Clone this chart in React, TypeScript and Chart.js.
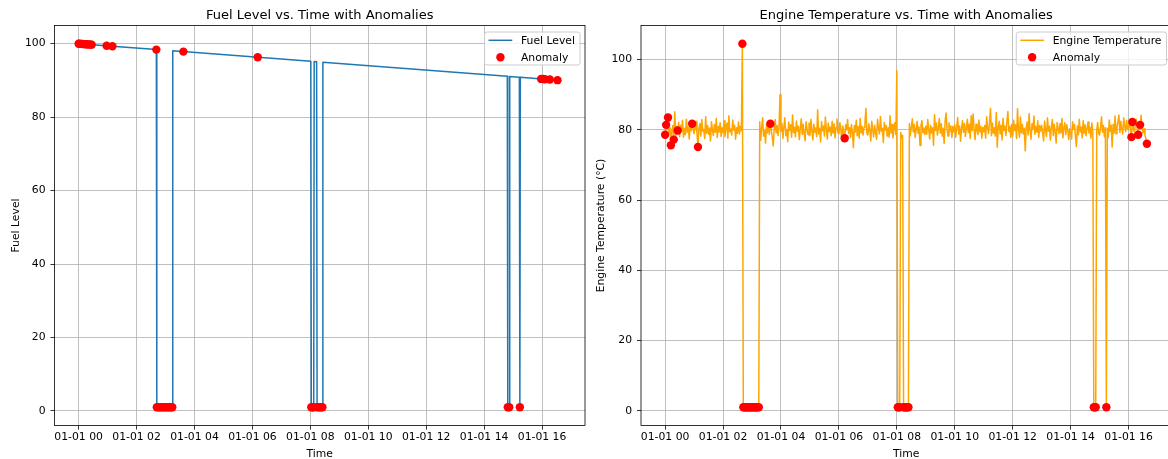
import React, { useEffect, useRef } from "react";
import { Chart, registerables } from "chart.js";

Chart.register(...registerables);

// ---------------- data ----------------
const xTickMinutes = [0, 120, 240, 360, 480, 600, 720, 840, 960];
const xTickLabels = [
  "01-01 00", "01-01 02", "01-01 04", "01-01 06", "01-01 08",
  "01-01 10", "01-01 12", "01-01 14", "01-01 16",
];
const yTickValues = [0, 20, 40, 60, 80, 100];

// Fuel level: breakpoints of the (piecewise straight) line, minutes from 01-01 00:00
const fuelTimes = [0, 161, 162, 194, 195, 481, 482, 487, 488, 493, 494, 505, 506, 888, 889, 892, 893, 913, 914, 915, 999];
const fuelLevels = [100, 98.39, 1, 1, 98.05, 95.19, 1, 1, 95.12, 95.07, 1, 1, 94.94, 91.11, 1, 1, 91.06, 90.86, 1, 90.84, 90.0];

const fuelAnomalyTimes = [
  0, 2, 5, 8, 11, 14, 17, 20, 24, 27, 58, 70, 161,
  162, 165, 168, 171, 174, 177, 180, 183, 186, 189, 192, 194,
  217, 371,
  482, 484, 487, 494, 497, 500, 503, 505,
  889, 892, 914,
  958, 962, 966, 976, 992,
];
const fuelAnomalyLevels = [
  100, 99.98, 99.95, 99.92, 99.89, 99.86, 99.83, 99.8, 99.76, 99.73, 99.42, 99.3, 98.39,
  1, 1, 1, 1, 1, 1, 1, 1, 1, 1, 1, 1,
  97.83, 96.29,
  1, 1, 1, 1, 1, 1, 1, 1,
  1, 1, 1,
  90.41, 90.37, 90.33, 90.23, 90.07,
];

// Engine temperature, one reading every 2 minutes from 01-01 00:00 (30 readings per row = 1 hour)
const tempStepMinutes = 2;
const engineTemps = [
  78.6, 81.4, 80.1, 83.5, 79.2, 80.6, 75.6, 79.9, 81.2, 77.2, 85.1, 78.4, 80.9, 79.8, 82.1, 78.0, 81.3, 79.5, 82.7, 77.9, 80.4, 78.6, 83.0, 79.3, 80.8, 77.4, 81.6, 79.7, 81.7, 80.2,
  78.9, 80.7, 82.4, 79.1, 75.1, 80.3, 81.8, 78.2, 82.9, 79.6, 80.1, 77.5, 83.8, 79.0, 81.2, 78.7, 80.5, 76.8, 82.3, 80.0, 78.4, 81.5, 79.3, 83.2, 77.8, 80.9, 79.4, 82.0, 78.1, 80.6,
  79.2, 82.6, 78.0, 80.7, 81.9, 77.6, 84.0, 79.4, 80.2, 78.5, 82.8, 79.9, 81.3, 77.3, 80.6, 79.0, 82.2, 78.8, 81.0, 79.7, 104.5, 1, 1, 1, 1, 1, 1, 1, 1, 1,
  1, 1, 1, 1, 1, 1, 1, 1, 82.3, 77.0, 80.6, 83.4, 78.2, 79.8, 76.2, 81.5, 79.1, 82.6, 78.7, 81.7, 80.0, 77.8, 75.4, 80.3, 82.9, 79.1, 81.2, 78.4, 80.8, 90.0,
  79.5, 81.8, 77.5, 80.9, 83.4, 78.3, 80.1, 76.6, 82.2, 79.8, 81.4, 77.9, 84.2, 79.2, 80.7, 78.0, 82.5, 79.6, 81.0, 77.2, 80.4, 83.1, 78.7, 81.6, 79.0, 76.9, 82.3, 80.2, 78.6, 81.9,
  78.4, 83.0, 79.9, 77.1, 81.6, 79.3, 80.5, 78.1, 85.7, 78.8, 80.4, 76.5, 82.3, 79.7, 81.1, 78.2, 83.6, 80.0, 77.4, 81.9, 79.5, 80.8, 78.3, 82.4, 79.0, 81.7, 77.7, 80.6, 83.1, 79.2,
  78.9, 82.0, 80.3, 76.9, 81.1, 79.4, 77.6, 81.4, 80.0, 82.9, 79.0, 80.6, 77.8, 81.5, 79.3, 74.9, 81.2, 79.4, 82.7, 78.3, 80.9, 77.6, 83.3, 79.1, 81.0, 78.5, 80.7, 82.2, 86.1, 79.0,
  78.5, 81.7, 79.8, 76.8, 82.4, 80.1, 78.0, 81.3, 79.2, 77.3, 83.0, 80.5, 78.8, 83.8, 79.6, 80.4, 76.4, 82.1, 79.9, 81.2, 78.2, 80.6, 77.9, 84.0, 79.0, 81.5, 77.7, 80.3, 82.0, 78.6,
  96.8, 1, 1, 1, 79.2, 77.5, 78.4, 1, 1, 1, 1, 1, 1, 81.8, 78.3, 80.7, 83.1, 79.4, 81.5, 77.8, 80.2, 82.4, 79.0, 80.8, 75.5, 81.3, 82.6, 79.1, 80.5, 78.7,
  81.0, 78.7, 82.9, 80.2, 77.4, 81.3, 79.1, 80.6, 75.6, 84.3, 79.8, 81.9, 78.5, 80.6, 83.2, 79.0, 81.7, 78.2, 80.4, 76.1, 82.5, 84.8, 80.1, 78.2, 82.0, 79.6, 81.1, 77.8, 80.9, 79.4,
  81.4, 77.9, 80.8, 83.5, 78.8, 81.1, 76.7, 80.4, 82.6, 79.3, 81.8, 78.1, 80.5, 83.0, 79.2, 81.6, 77.5, 84.0, 79.7, 84.5, 80.2, 77.2, 81.6, 80.0, 78.6, 82.8, 79.4, 81.0, 77.6, 80.7,
  79.4, 81.2, 77.6, 83.7, 80.5, 78.9, 82.2, 86.1, 78.3, 81.9, 79.0, 80.6, 78.2, 84.9, 75.0, 80.7, 82.4, 78.8, 81.3, 77.1, 83.3, 79.8, 81.0, 78.4, 82.5, 85.2, 79.5, 80.9, 77.8, 81.6,
  78.2, 82.7, 79.8, 81.4, 77.5, 86.0, 80.3, 77.9, 83.6, 79.1, 81.5, 78.8, 80.4, 74.0, 80.6, 82.2, 78.5, 84.6, 79.9, 77.3, 81.7, 80.1, 83.9, 78.7, 80.9, 79.3, 82.6, 77.9, 81.2, 79.6,
  81.3, 79.2, 76.8, 82.5, 80.0, 78.1, 83.4, 79.6, 81.0, 77.0, 80.7, 82.9, 78.4, 81.6, 79.3, 76.2, 82.1, 80.4, 78.9, 81.8, 79.1, 83.2, 77.7, 80.5, 82.0, 78.6, 81.4, 79.8, 77.2, 80.3,
  79.5, 77.4, 82.3, 80.2, 81.5, 78.0, 75.2, 81.1, 78.6, 83.0, 79.4, 80.8, 77.7, 82.6, 79.0, 81.4, 78.3, 80.5, 82.2, 79.1, 80.7, 77.6, 81.9, 79.3, 1, 1, 1, 79.8, 82.1, 78.9,
  78.5, 80.9, 83.7, 79.3, 81.2, 78.0, 80.6, 1, 80.4, 77.8, 82.8, 79.6, 81.3, 75.1, 81.5, 79.0, 83.9, 78.9, 80.6, 82.3, 84.2, 79.2, 82.4, 80.1, 78.8, 83.4, 81.0, 79.5, 82.7, 80.2,
  80.7, 82.9, 79.6, 77.9, 82.2, 80.5, 79.4, 81.2, 83.0, 80.1, 78.6, 81.9, 81.4, 84.1, 80.6, 79.1, 80.3, 78.5, 77.4, 76.0,
];
const tempAnomalyIdx = [
  0, 1, 3, 6, 9, 13, 28, 34,
  80, 81, 82, 83, 84, 85, 86, 87, 88, 89, 90, 91, 92, 93, 94, 95, 96, 97,
  109, 186,
  241, 242, 243, 247, 248, 249, 250, 251, 252,
  444, 445, 446, 457,
  483, 484, 490, 492, 499,
];

// ---------------- styling ----------------
const FONT = "'DejaVu Sans', 'Liberation Sans', sans-serif";
const FS = 10.8;
const DOT_R = 4.2;

type Pt = { x: number; y: number };
type Panel = {
  title: string;
  yLabel: string;
  lineLabel: string;
  lineColor: string;
  line: Pt[];
  anomalies: Pt[];
  yMin: number;
  yMax: number;
  yAxisWidth: number;
  rightPad: number;
  yLabelX: number;
};

function makeDecor(p: Panel) {
  return {
    id: "mplDecor",
    afterDatasetsDraw(chart: any) {
      const { ctx, chartArea: a } = chart;
      ctx.save();
      ctx.strokeStyle = "#000";
      ctx.lineWidth = 0.8;
      ctx.strokeRect(a.left, a.top, a.right - a.left, a.bottom - a.top);
      ctx.restore();
    },
    afterDraw(chart: any) {
      const { ctx, chartArea: a } = chart;
      const cx = (a.left + a.right) / 2;
      ctx.save();
      ctx.fillStyle = "#000";
      ctx.textAlign = "center";
      ctx.textBaseline = "alphabetic";
      ctx.font = `13px ${FONT}`;
      ctx.fillText(p.title, cx, a.top - 6.5);
      ctx.font = `${FS}px ${FONT}`;
      ctx.fillText("Time", cx, 456.5);
      ctx.save();
      ctx.translate(p.yLabelX, (a.top + a.bottom) / 2);
      ctx.rotate(-Math.PI / 2);
      ctx.fillText(p.yLabel, 0, 0);
      ctx.restore();

      // legend (upper right)
      const tw = Math.max(ctx.measureText(p.lineLabel).width, ctx.measureText("Anomaly").width);
      const padL = 4, handle = 23.7, gap = 8.7, padR = 5;
      const w = padL + handle + gap + tw + padR;
      const h = 33;
      const x0 = a.right - 5 - w;
      const y0 = a.top + 6.5;
      const r = 2.5;
      ctx.beginPath();
      ctx.moveTo(x0 + r, y0);
      ctx.lineTo(x0 + w - r, y0);
      ctx.arcTo(x0 + w, y0, x0 + w, y0 + r, r);
      ctx.lineTo(x0 + w, y0 + h - r);
      ctx.arcTo(x0 + w, y0 + h, x0 + w - r, y0 + h, r);
      ctx.lineTo(x0 + r, y0 + h);
      ctx.arcTo(x0, y0 + h, x0, y0 + h - r, r);
      ctx.lineTo(x0, y0 + r);
      ctx.arcTo(x0, y0, x0 + r, y0, r);
      ctx.closePath();
      ctx.fillStyle = "rgba(255,255,255,0.8)";
      ctx.fill();
      ctx.strokeStyle = "#cccccc";
      ctx.lineWidth = 1;
      ctx.stroke();

      const r1 = y0 + 8.3;
      const r2 = y0 + 25.3;
      ctx.strokeStyle = p.lineColor;
      ctx.lineWidth = 1.5;
      ctx.beginPath();
      ctx.moveTo(x0 + padL, r1);
      ctx.lineTo(x0 + padL + handle, r1);
      ctx.stroke();
      ctx.fillStyle = "#ff0000";
      ctx.beginPath();
      ctx.arc(x0 + padL + handle / 2, r2, DOT_R, 0, Math.PI * 2);
      ctx.fill();
      ctx.fillStyle = "#000";
      ctx.textAlign = "left";
      ctx.textBaseline = "middle";
      ctx.fillText(p.lineLabel, x0 + padL + handle + gap, r1 + 0.7);
      ctx.fillText("Anomaly", x0 + padL + handle + gap, r2 + 0.7);
      ctx.restore();
    },
  };
}

function buildChart(canvas: HTMLCanvasElement, p: Panel) {
  const tickFont = { family: FONT, size: FS };
  const grid = {
    color: "#b0b0b0",
    lineWidth: 0.8,
    drawTicks: true,
    tickLength: 4,
    tickColor: "#000",
    tickWidth: 0.8,
  };
  return new Chart(canvas, {
    type: "scatter",
    data: {
      datasets: [
        {
          label: "Anomaly",
          data: p.anomalies,
          showLine: false,
          pointRadius: DOT_R,
          pointHoverRadius: DOT_R,
          pointBackgroundColor: "#ff0000",
          pointBorderWidth: 0,
          order: 0,
        },
        {
          label: p.lineLabel,
          data: p.line,
          showLine: true,
          borderColor: p.lineColor,
          borderWidth: 1.5,
          borderJoinStyle: "round",
          pointRadius: 0,
          pointHoverRadius: 0,
          fill: false,
          order: 1,
        },
      ],
    },
    options: {
      responsive: false,
      animation: false,
      events: [],
      layout: { padding: { left: 0, right: p.rightPad, top: 25.5, bottom: 0 } },
      plugins: {
        legend: { display: false },
        title: { display: false },
        tooltip: { enabled: false },
      },
      scales: {
        x: {
          type: "linear",
          min: -49.95,
          max: 1048.95,
          afterBuildTicks: (s: any) => {
            s.ticks = xTickMinutes.map((v) => ({ value: v }));
          },
          afterFit: (s: any) => {
            s.height = 33.5;
          },
          ticks: {
            autoSkip: false,
            maxRotation: 0,
            minRotation: 0,
            padding: 1.5,
            color: "#000",
            font: tickFont,
            callback: (v: any) => xTickLabels[xTickMinutes.indexOf(Number(v))],
          },
          grid,
          border: { display: false },
        },
        y: {
          type: "linear",
          min: p.yMin,
          max: p.yMax,
          afterBuildTicks: (s: any) => {
            s.ticks = yTickValues.map((v) => ({ value: v }));
          },
          afterFit: (s: any) => {
            s.width = p.yAxisWidth;
          },
          ticks: {
            padding: 5,
            color: "#000",
            font: tickFont,
            callback: (v: any) => String(v),
          },
          grid,
          border: { display: false },
        },
      },
    } as any,
    plugins: [makeDecor(p)],
  } as any);
}

const fuelPanel: Panel = {
  title: "Fuel Level vs. Time with Anomalies",
  yLabel: "Fuel Level",
  lineLabel: "Fuel Level",
  lineColor: "#1f77b4",
  line: fuelTimes.map((t, i) => ({ x: t, y: fuelLevels[i] })),
  anomalies: fuelAnomalyTimes.map((t, i) => ({ x: t, y: fuelAnomalyLevels[i] })),
  yMin: -3.95,
  yMax: 104.95,
  yAxisWidth: 54.5,
  rightPad: 5,
  yLabelX: 19,
};

const tempPanel: Panel = {
  title: "Engine Temperature vs. Time with Anomalies",
  yLabel: "Engine Temperature (°C)",
  lineLabel: "Engine Temperature",
  lineColor: "#ffa500",
  line: engineTemps.map((v, i) => ({ x: i * tempStepMinutes, y: v })),
  anomalies: tempAnomalyIdx.map((i) => ({ x: i * tempStepMinutes, y: engineTemps[i] })),
  yMin: -4.18,
  yMax: 109.68,
  yAxisWidth: 51,
  rightPad: 8.5,
  yLabelX: 14,
};

export default function App() {
  const leftRef = useRef<HTMLCanvasElement>(null);
  const rightRef = useRef<HTMLCanvasElement>(null);

  useEffect(() => {
    const c1 = buildChart(leftRef.current!, fuelPanel);
    const c2 = buildChart(rightRef.current!, tempPanel);
    return () => {
      c1.destroy();
      c2.destroy();
    };
  }, []);

  return (
    <div
      style={{
        position: "fixed",
        left: 0,
        top: 0,
        width: 1168,
        height: 459,
        overflow: "hidden",
        background: "#fff",
      }}
    >
      <canvas
        ref={leftRef}
        width={590}
        height={459}
        style={{ position: "absolute", left: 0, top: 0, width: 590, height: 459 }}
      />
      <canvas
        ref={rightRef}
        width={590}
        height={459}
        style={{ position: "absolute", left: 590, top: 0, width: 590, height: 459 }}
      />
    </div>
  );
}
